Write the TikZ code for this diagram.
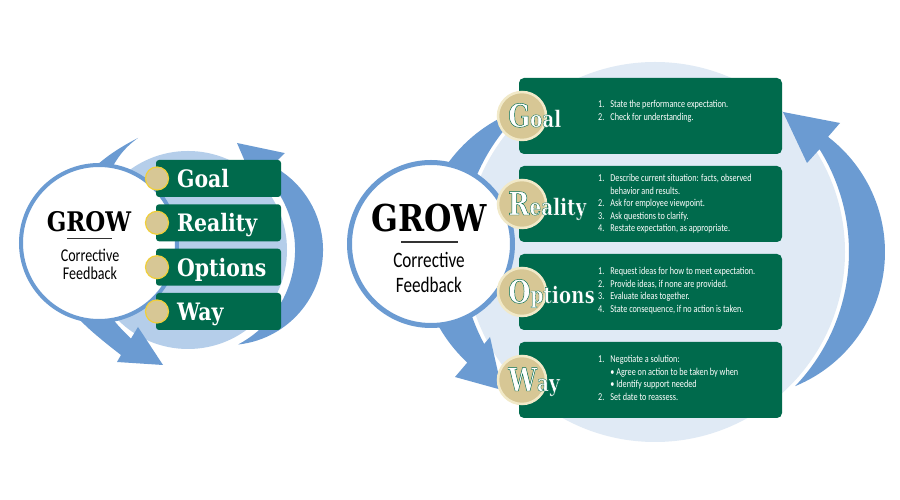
\documentclass[tikz,border=0pt]{standalone}
\usepackage{fontspec}
\setmainfont{Carlito}
\newfontfamily\slabfont{DejaVu Serif}[FakeStretch=0.85]
\newfontface\rimfont{DejaVu Serif Bold}[FakeStretch=0.8, FakeBold=1.4]
\newfontfamily\condfont{Carlito}[FakeStretch=0.78]
\definecolor{growgreen}{HTML}{006A4C}
\definecolor{ringblue}{HTML}{6B9BD2}
\definecolor{palering}{HTML}{E0EAF5}
\definecolor{palesmall}{HTML}{B5CEEA}
\definecolor{goldfill}{HTML}{D7C795}
\definecolor{goldedge}{HTML}{F1E9C8}
\definecolor{goldyellow}{HTML}{F0CF3A}
% stroke colour for the outlined labels
\newcommand\greenrim{\special{pdf:literal direct 0 0.416 0.298 RG}}

\begin{document}
\begin{tikzpicture}[x=1pt,y=1pt,
  greenbox/.style={fill=growgreen, rounded corners=5pt, minimum width=263pt, minimum height=76pt, inner sep=0pt},
  smallbox/.style={fill=growgreen, rounded corners=3pt, minimum width=125pt, minimum height=37pt, inner sep=0pt},
  golddot/.style={circle, fill=goldfill, draw=goldedge, line width=2.5pt, minimum size=48pt, inner sep=0pt},
  smalldot/.style={circle, fill=goldfill, draw=goldyellow, line width=1.2pt, minimum size=23pt, inner sep=0pt},
  growcirc/.style={circle, fill=white, draw=ringblue, inner sep=0pt},
  titletext/.style={anchor=base, inner sep=0pt},
  biglabel/.style={anchor=base west, inner sep=0pt, text=white, font=\rimfont\fontsize{23}{23}\selectfont},
  smalllabel/.style={anchor=base west, inner sep=0pt, text=white, font=\slabfont\bfseries\fontsize{24}{24}\selectfont},
  itemtext/.style={anchor=base west, inner sep=0pt, text=white, font=\condfont\fontsize{10.5}{12.5}\selectfont}]
\fill[white] (0,0) rectangle (900,500);
\useasboundingbox (0,0) rectangle (900,500);

% small diagram
\fill[palesmall] (188,250) circle (99);
\fill[ringblue] (238.2,155.5) arc[start angle=-83.8, end angle=62.3, radius=95.1] -- (284.9,346.9) -- (237,357) -- (254.5,316.5) -- (263.7,325.7) arc[start angle=45, end angle=-62, radius=107] -- cycle;
\fill[ringblue] plot[smooth, tension=0.7] coordinates {(138,362) (103,340) (62,300) (48,250) (60,205) (85,175) (121,145)} -- (117,138) -- (163,135) -- (138,173) -- (131,161.5) -- plot[smooth, tension=0.7] coordinates {(131,161.5) (112,182) (95,210) (88,250) (97,300) (118,342) (138,362)} -- cycle;

\node[growcirc, line width=4pt, minimum size=156pt] (growleft) at (99,257) {};
\node[titletext, font=\slabfont\bfseries\fontsize{27}{27}\selectfont] (growtitlel) at (89,268) {GROW};
\draw[line width=1pt, black!80] (67,261) -- (112,261);
\node[titletext, font=\condfont\fontsize{18}{18}\selectfont] (correctl) at (90,238) {Corrective};
\node[titletext, font=\condfont\fontsize{18}{18}\selectfont] (feedl) at (90,220) {Feedback};

\node[smallbox] (lgoalbox) at (218.5,321.5) {};
\node[smallbox] (lrealitybox) at (218.5,277.2) {};
\node[smallbox] (loptionsbox) at (218.5,232.8) {};
\node[smallbox] (lwaybox) at (218.5,188.5) {};

\node[smalldot] (lgoaldot) at (157,321.5) {};
\node[smalldot] (lrealitydot) at (157,277.2) {};
\node[smalldot] (loptionsdot) at (157,232.8) {};
\node[smalldot] (lwaydot) at (157,188.5) {};

\node[smalllabel] (lgoal) at (177,312.5) {Goal};
\node[smalllabel] (lreality) at (177,268.2) {Reality};
\node[smalllabel] (loptions) at (177,223.8) {Options};
\node[smalllabel] (lway) at (177,179.5) {Way};

% big diagram
\fill[palering] (655,248) circle (190);
\fill[ringblue] (795.2,113.9) arc[start angle=-67.6, end angle=52.6, radius=145] -- (840,377) -- (783,388) -- (807,337) -- (819.5,350.8) arc[start angle=32, end angle=-43.7, radius=194] -- cycle;
\fill[ringblue] (525.2,392.2) arc[start angle=107.3, end angle=227.1, radius=151] -- (455,123) -- (502,110) -- (490,163) -- (484.2,156) arc[start angle=208.3, end angle=132, radius=194] -- cycle;

\node[growcirc, line width=5pt, minimum size=163pt] (growright) at (431,256) {};
\node[titletext, font=\slabfont\bfseries\fontsize{37}{37}\selectfont] (growtitler) at (429,268) {GROW};
\draw[line width=1.2pt, black!80] (401,258) -- (458,258);
\node[titletext, font=\condfont\fontsize{22}{22}\selectfont] (correctr) at (429,232) {Corrective};
\node[titletext, font=\condfont\fontsize{22}{22}\selectfont] (feedr) at (429,207) {Feedback};

\node[greenbox] (goalbox) at (650.5,384) {};
\node[greenbox] (realitybox) at (650.5,296) {};
\node[greenbox] (optionsbox) at (650.5,208) {};
\node[greenbox] (waybox) at (650.5,120) {};

\node[golddot] (goaldot) at (522,384) {};
\node[golddot] (realitydot) at (522,296) {};
\node[golddot] (optionsdot) at (522,208) {};
\node[golddot] (waydot) at (522,120) {};

\node[biglabel] (goallabel) at (508,373) {\greenrim{\fontsize{32}{32}\selectfont G}oal};
\node[biglabel] (realitylabel) at (508,285) {\greenrim{\fontsize{32}{32}\selectfont R}eality};
\node[biglabel] (optionslabel) at (508,197) {\greenrim{\fontsize{32}{32}\selectfont O}ptions};
\node[biglabel] (waylabel) at (508,109) {\greenrim{\fontsize{32}{32}\selectfont W}ay};

\node[itemtext] (goalitems) at (598,392) {\begin{tabular}[t]{@{}l@{\hspace{6pt}}l@{}}
1. & State the performance expectation.\\
2. & Check for understanding.
\end{tabular}};
\node[itemtext] (realityitems) at (598,318) {\begin{tabular}[t]{@{}l@{\hspace{6pt}}l@{}}
1. & Describe current situation: facts, observed\\
 & behavior and results.\\
2. & Ask for employee viewpoint.\\
3. & Ask questions to clarify.\\
4. & Restate expectation, as appropriate.
\end{tabular}};
\node[itemtext] (optionsitems) at (598,225) {\begin{tabular}[t]{@{}l@{\hspace{6pt}}l@{}}
1. & Request ideas for how to meet expectation.\\
2. & Provide ideas, if none are provided.\\
3. & Evaluate ideas together.\\
4. & State consequence, if no action is taken.
\end{tabular}};
\node[itemtext] (wayitems) at (598,137) {\begin{tabular}[t]{@{}l@{\hspace{6pt}}l@{}}
1. & Negotiate a solution:\\
 & \textbullet\ Agree on action to be taken by when\\
 & \textbullet\ Identify support needed\\
2. & Set date to reassess.
\end{tabular}};
\end{tikzpicture}
\end{document}
